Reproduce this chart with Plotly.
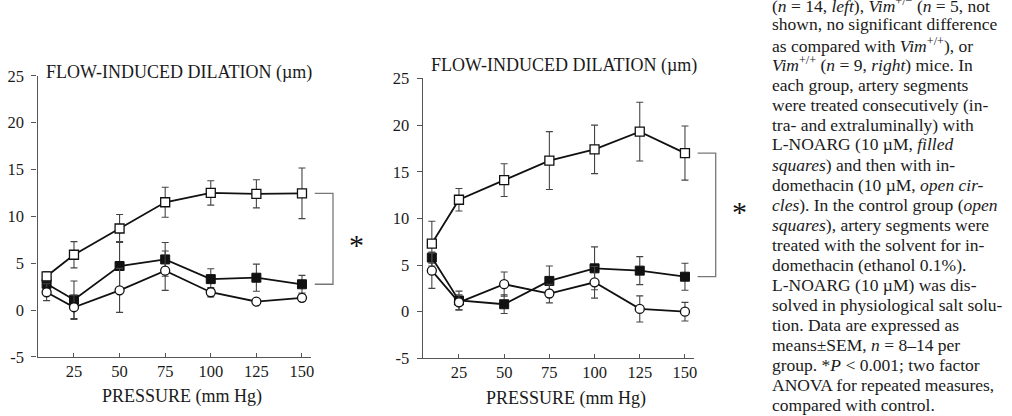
import plotly.graph_objects as go

# ---------------- data ----------------
pressure = [10, 25, 50, 75, 100, 125, 150]

# left panel (Vim-/-)
left_control = [3.6, 5.9, 8.7, 11.5, 12.5, 12.4, 12.45]
left_control_err = [0.5, 1.4, 1.5, 1.6, 1.3, 1.5, 2.7]
left_lnoarg = [2.8, 1.1, 4.7, 5.4, 3.3, 3.45, 2.75]
left_lnoarg_err = [0.6, 2.0, 2.6, 1.8, 1.1, 1.45, 0.95]
left_indo = [1.9, 0.3, 2.1, 4.2, 1.9, 0.9, 1.3]
left_indo_err = [0.9, 1.3, 2.35, 2.1, 0.5, 0.2, 0.3]

# right panel (Vim+/+)
right_control = [7.3, 12.0, 14.1, 16.2, 17.4, 19.3, 17.0]
right_control_err = [2.4, 1.2, 1.75, 3.1, 2.6, 3.15, 2.9]
right_lnoarg = [5.8, 1.2, 0.8, 3.3, 4.65, 4.4, 3.75]
right_lnoarg_err = [0.6, 1.0, 1.0, 1.6, 2.3, 1.5, 1.45]
right_indo = [4.4, 1.0, 2.95, 1.95, 3.15, 0.3, 0.0]
right_indo_err = [1.9, 0.8, 1.3, 1.0, 1.7, 1.4, 1.0]

x_tickvals = [25, 50, 75, 100, 125, 150]
x_ticktext = ["25", "50", "75", "100", "125", "150"]
y_tickvals = [-5, 0, 5, 10, 15, 20, 25]
y_ticktext = ["-5", "0", "5", "10", "15", "20", "25"]

y_title = "FLOW-INDUCED DILATION (µm)"
x_title = "PRESSURE (mm Hg)"

caption_lines = [
    "(<i>n</i> = 14, <i>left</i>), <i>Vim</i><sup>+/−</sup> (<i>n</i> = 5, not",
    "shown, no significant difference",
    "as compared with <i>Vim</i><sup>+/+</sup>), or",
    "<i>Vim</i><sup>+/+</sup> (<i>n</i> = 9, <i>right</i>) mice. In",
    "each group, artery segments",
    "were treated consecutively (in-",
    "tra- and extraluminally) with",
    "L-NOARG (10 µM, <i>filled</i>",
    "<i>squares</i>) and then with in-",
    "domethacin (10 µM, <i>open cir-</i>",
    "<i>cles</i>). In the control group (<i>open</i>",
    "<i>squares</i>), artery segments were",
    "treated with the solvent for in-",
    "domethacin (ethanol 0.1%).",
    "L-NOARG (10 µM) was dis-",
    "solved in physiological salt solu-",
    "tion. Data are expressed as",
    "means±SEM, <i>n</i> = 8–14 per",
    "group. *<i>P</i> < 0.001; two factor",
    "ANOVA for repeated measures,",
    "compared with control.",
]

# ---------------- layout constants ----------------
W, H = 1012, 416
FONT = "Liberation Serif, Times New Roman, serif"
XR = [5, 155]
YR = [-5, 25]
BR = [155, 190]  # bracket helper axis range (same units)

def px_dom(a, b, total):
    return [a / total, b / total]

panels = [
    dict(x0=37.5, x1=311.1, ytop=75.75, ybot=356.9, bx1=311.1 + 35 * 1.824,
         ctrl=left_control, ce=left_control_err, lno=left_lnoarg, le=left_lnoarg_err,
         ind=left_indo, ie=left_indo_err, title_shift=3, xlab_y=396.7, star_shift=-6),
    dict(x0=422.8, x1=694.0, ytop=78.45, ybot=358.35, bx1=694.0 + 35 * 1.808,
         ctrl=right_control, ce=right_control_err, lno=right_lnoarg, le=right_lnoarg_err,
         ind=right_indo, ie=right_indo_err, title_shift=13, xlab_y=398.0, star_shift=3),
]

fig = go.Figure()
layout = dict(
    width=W, height=H,
    margin=dict(l=0, r=0, t=0, b=0, pad=0, autoexpand=False),
    paper_bgcolor="white", plot_bgcolor="white", showlegend=False,
    font=dict(family=FONT, size=17, color="#1a1a1a"),
)
annotations = []

LINE = dict(color="#111", width=1.8)
ERR = dict(type="data", thickness=1.1, width=3.5, color="#444")

for i, p in enumerate(panels):
    n = 2 * i + 1
    xa = "x" if n == 1 else f"x{n}"
    ya = "y" if n == 1 else f"y{n}"
    xb = f"x{n + 1}"
    yb = f"y{n + 1}"
    xdom = px_dom(p["x0"], p["x1"], W)
    ydom = [1 - p["ybot"] / H, 1 - p["ytop"] / H]

    series = [
        (p["lno"], p["le"], dict(symbol="square", size=9, color="#111",
                                 line=dict(color="#111", width=1))),
        (p["ind"], p["ie"], dict(symbol="circle", size=9, color="white",
                                 line=dict(color="#111", width=1.3))),
        (p["ctrl"], p["ce"], dict(symbol="square", size=9, color="white",
                                  line=dict(color="#111", width=1.3))),
    ]
    for vals, errs, mk in series:
        fig.add_trace(go.Scatter(
            x=pressure, y=vals, mode="lines+markers", xaxis=xa, yaxis=ya,
            line=LINE, marker=mk, cliponaxis=False,
            error_y=dict(array=errs, **ERR),
        ))

    # bracket comparing control vs L-NOARG at the last pressure
    fig.add_trace(go.Scatter(
        x=[157, 167, 167, 157],
        y=[p["ctrl"][-1], p["ctrl"][-1], p["lno"][-1], p["lno"][-1]],
        mode="lines", xaxis=xb, yaxis=yb,
        line=dict(color="#777", width=1.3), hoverinfo="skip",
    ))
    annotations.append(dict(
        x=180, y=(p["ctrl"][-1] + p["lno"][-1]) / 2, xref=xb, yref=yb,
        text="*", showarrow=False, font=dict(size=30, family=FONT, color="#111"),
        yshift=p["star_shift"],
    ))

    axkey = "xaxis" if n == 1 else f"xaxis{n}"
    aykey = "yaxis" if n == 1 else f"yaxis{n}"
    layout[axkey] = dict(
        domain=xdom, range=XR, anchor=ya, showgrid=False, zeroline=False,
        automargin=False,
        showline=True, linecolor="#555", linewidth=1.3,
        tickmode="array", tickvals=x_tickvals, ticktext=x_ticktext,
        ticks="inside", ticklen=4, tickcolor="#555", tickwidth=1.2,
        tickfont=dict(family=FONT, size=16.5, color="#1a1a1a"),
        ticklabelstandoff=-1,
    )
    layout[aykey] = dict(
        domain=ydom, range=YR, anchor=xa, showgrid=False, zeroline=False,
        automargin=False,
        showline=True, linecolor="#555", linewidth=1.3,
        tickmode="array", tickvals=y_tickvals, ticktext=y_ticktext,
        ticks="outside", ticklen=5, tickcolor="#555", tickwidth=1.2,
        tickfont=dict(family=FONT, size=16.5, color="#1a1a1a"),
        ticklabelstandoff=4,
    )
    layout[f"xaxis{n + 1}"] = dict(
        domain=px_dom(p["x1"], p["bx1"], W), range=BR, anchor=yb, visible=False,
        automargin=False,
    )
    layout[f"yaxis{n + 1}"] = dict(
        domain=ydom, range=YR, anchor=xb, visible=False, automargin=False,
    )

    # panel title (y-axis label) and x-axis label
    annotations.append(dict(
        x=0, y=25, xref=f"{xa} domain", yref=ya, xanchor="left", yanchor="middle",
        xshift=6, yshift=p["title_shift"], text=y_title, showarrow=False,
        font=dict(family=FONT, size=18, color="#1a1a1a"),
    ))
    annotations.append(dict(
        x=0.528, y=1 - p["xlab_y"] / H, xref=f"{xa} domain", yref="paper",
        xanchor="center", yanchor="middle", text=x_title, showarrow=False,
        font=dict(family=FONT, size=18, color="#1a1a1a"),
    ))

# caption column
for k, line in enumerate(caption_lines):
    annotations.append(dict(
        x=770 / W, y=1 - (4.5 + 20 * k) / H, xref="paper", yref="paper",
        xanchor="left", yanchor="middle", align="left", text=line,
        showarrow=False, font=dict(family=FONT, size=17.5, color="#1a1a1a"),
    ))

layout["annotations"] = annotations
fig.update_layout(**layout)
fig.write_html("out.html")
